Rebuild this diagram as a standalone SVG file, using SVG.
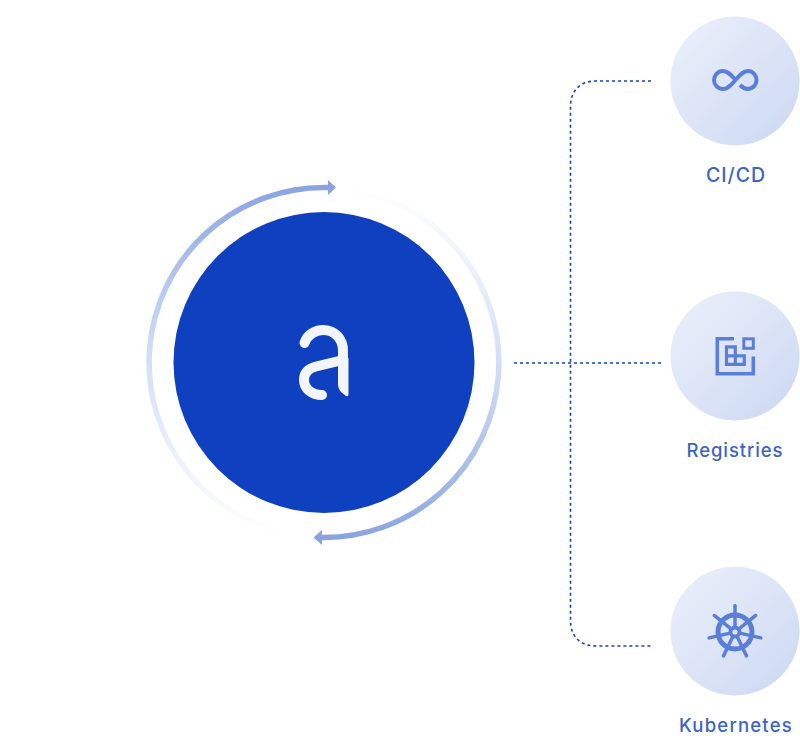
<svg xmlns="http://www.w3.org/2000/svg" width="800" height="752" viewBox="0 0 800 752">
<style>
.lbl{font-family:"Inter","Liberation Sans",sans-serif;font-size:18.5px;font-weight:500;fill:#3c64c8;text-anchor:middle}
.bub{fill:url(#bub)}
.ic{fill:none;stroke:#5b7fd9;stroke-width:3.5}
.con{fill:none;stroke:#1142bf;stroke-width:1.6;stroke-dasharray:3 3}
.logo{fill:none;stroke:#f2f5f9;stroke-width:10;stroke-linecap:round}
</style>
<defs>
<linearGradient id="bub" x1="0" y1="0" x2="1" y2="1"><stop offset="0.1" stop-color="#e9eefa"/><stop offset="0.9" stop-color="#cfdaf3"/></linearGradient>
<linearGradient id="a1" gradientUnits="userSpaceOnUse" x1="330" y1="187" x2="300" y2="537"><stop offset="0" stop-color="#8aa3e0"/><stop offset="0.5" stop-color="#cfdcf5"/><stop offset="1" stop-color="#ffffff"/></linearGradient>
<linearGradient id="a2" gradientUnits="userSpaceOnUse" x1="318" y1="537" x2="345" y2="187"><stop offset="0" stop-color="#8aa3e0"/><stop offset="0.5" stop-color="#cfdcf5"/><stop offset="1" stop-color="#ffffff"/></linearGradient>
</defs>
<g id="connectors">
<path class="con" d="M651 81H596C580 81 570.500 91 570.500 106V621C570.500 636 580 646 596 646H651"/>
<path class="con" d="M514 363H661"/>
</g>
<g id="hub">
<path d="M329 187.570A175 175 0 0 0 302 536.100" fill="none" stroke="url(#a1)" stroke-width="5.500"/>
<path d="M320 537.450A175 175 0 0 0 346 188.900" fill="none" stroke="url(#a2)" stroke-width="5.500"/>
<polygon points="336,187.500 328,180 328,195" fill="#8aa3e0"/>
<polygon points="313.500,537.500 322,530 322,545" fill="#8aa3e0"/>
<circle cx="324" cy="362.500" r="150.500" fill="#0f40bf"/>
<path class="logo" d="M304.500 343C307 335 315 330 323 330C335 330 343 339 343 351V362"/>
<path class="logo" stroke-linecap="butt" d="M343 360L316 366.500C308 368.500 304 373 304 380C304 389 312 395 322 395"/>
<path d="M338 360V384C338 390 342 393 346 396Q348.500 397 348.500 394V358Z" fill="#f2f5f9"/>
</g>
<g id="cicd">
<circle class="bub" cx="735" cy="81" r="64.500"/>
<path class="ic" d="M735.500 80C731 75 728 71 723 71C717.500 71 714 75.500 714 80C714 84.500 717.500 89 723 89C728 89 731 85 735.500 80C740 75 743 71 748 71C753 71 756.500 75.500 756.500 80C756.500 84.500 753 89 748 89C744.500 89 742 87 740 85" style="stroke-width:4"/>
<text class="lbl" x="736" y="182" style="font-size:19.500px" letter-spacing="1">CI/CD</text>
</g>
<g id="registries">
<circle class="bub" cx="735" cy="356" r="64.500"/>
<path class="ic" d="M734 338.800H717.300V373.800H753.300V356.500" style="stroke-width:3.600"/>
<rect class="ic" x="743.800" y="338.800" width="9.500" height="9.500" style="stroke-width:3"/>
<path class="ic" d="M726.500 346.800H735.300V364.300H726.500ZM726.500 355.800H744.300V364.300H735.300" style="stroke-width:3.200"/>
<text class="lbl" x="735" y="457" letter-spacing=".9">Registries</text>
</g>
<g id="kubernetes">
<circle class="bub" cx="735" cy="631" r="64.500"/>
<circle class="ic" cx="735" cy="632" r="17" style="stroke-width:5"/>
<circle class="ic" cx="735" cy="632" r="4.500" style="stroke-width:3.800"/>
<g stroke="#5b7fd9" stroke-width="3.500" stroke-linecap="round">
<path d="M735 627V605.500"/>
<path d="M735 627V605.500" transform="rotate(51.430 735 632)"/>
<path d="M735 627V605.500" transform="rotate(102.860 735 632)"/>
<path d="M735 627V605.500" transform="rotate(154.290 735 632)"/>
<path d="M735 627V605.500" transform="rotate(205.710 735 632)"/>
<path d="M735 627V605.500" transform="rotate(257.140 735 632)"/>
<path d="M735 627V605.500" transform="rotate(308.570 735 632)"/>
</g>
<text class="lbl" x="736" y="732" letter-spacing="1.200">Kubernetes</text>
</g>
</svg>
